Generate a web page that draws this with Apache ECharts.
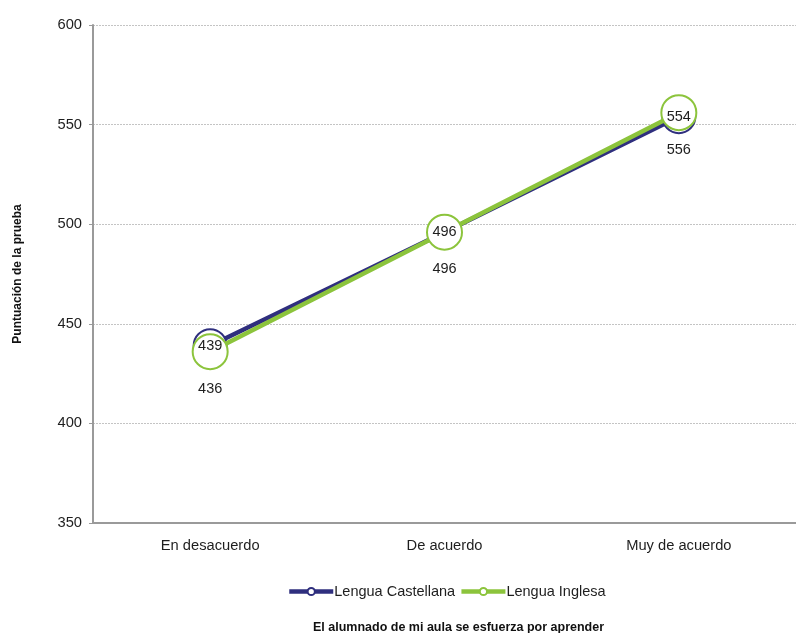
<!DOCTYPE html>
<html>
<head>
<meta charset="utf-8">
<script src="https://cdn.jsdelivr.net/npm/echarts@6/dist/echarts.min.js"></script>
<style>
  html, body { margin: 0; padding: 0; background: #fff; }
  #chart { width: 796px; height: 633px; }
</style>
</head>
<body>
<div id="chart"></div>
<script>
// Categories on the x axis
const categories = ['En desacuerdo', 'De acuerdo', 'Muy de acuerdo'];
// Test scores per subject
const castellana = [439, 496, 554];
const inglesa = [436, 496, 556];
const seriesNames = ['Lengua Castellana', 'Lengua Inglesa'];

const FONT = '"Liberation Sans", Arial, sans-serif';
const BLUE = '#2f2f7e';
const GREEN = '#8cc43c';
const TEXT = '#1e1e1e';

const chart = echarts.init(document.getElementById('chart'), null, { renderer: 'canvas' });

chart.setOption({
  animation: false,
  backgroundColor: '#ffffff',
  grid: { left: 93, top: 25, right: -8, bottom: 110, containLabel: false },
  legend: {
    top: 584,
    left: 287,
    padding: 0,
    itemWidth: 44,
    itemHeight: 9,
    itemGap: 4,
    lineStyle: { width: 4.5 },
    textStyle: { fontFamily: FONT, fontSize: 14.5, color: TEXT, padding: [0, 0, 0, -4] },
    data: seriesNames
  },
  title: {
    text: 'El alumnado de mi aula se esfuerza por aprender',
    left: 313,
    top: 621,
    padding: 0,
    textStyle: { fontFamily: FONT, fontSize: 12.5, fontWeight: 'bold', color: '#111' }
  },
  xAxis: {
    type: 'category',
    data: categories,
    boundaryGap: true,
    axisLine: { lineStyle: { color: '#9a9a9a', width: 2 } },
    axisTick: { show: false },
    axisLabel: { fontFamily: FONT, fontSize: 14.7, color: TEXT, margin: 15 }
  },
  yAxis: {
    type: 'value',
    min: 350,
    max: 600,
    interval: 50,
    name: 'Puntuación de la prueba',
    nameLocation: 'middle',
    nameGap: 69,
    nameTextStyle: { fontFamily: FONT, fontSize: 12, fontWeight: 'bold', color: '#111' },
    axisLine: { show: true, lineStyle: { color: '#9a9a9a', width: 2 } },
    axisTick: { show: true, length: 4, lineStyle: { color: '#9a9a9a' } },
    axisLabel: { fontFamily: FONT, fontSize: 14.7, color: TEXT, margin: 11 },
    splitLine: { lineStyle: { color: '#c4c4c4', type: [2, 1], width: 1 } }
  },
  series: [
    {
      name: seriesNames[0],
      type: 'line',
      data: castellana,
      symbol: 'circle',
      symbolSize: 33,
      lineStyle: { color: BLUE, width: 4.5 },
      itemStyle: { color: '#fff', borderColor: BLUE, borderWidth: 2 },
      label: { show: false },
      z: 2
    },
    {
      name: seriesNames[1],
      type: 'line',
      data: inglesa,
      symbol: 'circle',
      symbolSize: 35,
      lineStyle: { color: GREEN, width: 4.5 },
      itemStyle: { color: '#fff', borderColor: GREEN, borderWidth: 2 },
      label: {
        show: true,
        position: 'bottom',
        distance: 11,
        fontFamily: FONT,
        fontSize: 14.5,
        color: TEXT
      },
      z: 3
    },
    {
      // value labels for Lengua Castellana, drawn above both markers
      name: seriesNames[0] + ' etiquetas',
      type: 'scatter',
      data: castellana,
      symbolSize: 1,
      itemStyle: { color: 'rgba(0,0,0,0)', opacity: 1 },
      label: {
        show: true,
        position: 'inside',
        fontFamily: FONT,
        fontSize: 14.5,
        color: TEXT,
        opacity: 1
      },
      silent: true,
      z: 5
    }
  ]
});
</script>
</body>
</html>
